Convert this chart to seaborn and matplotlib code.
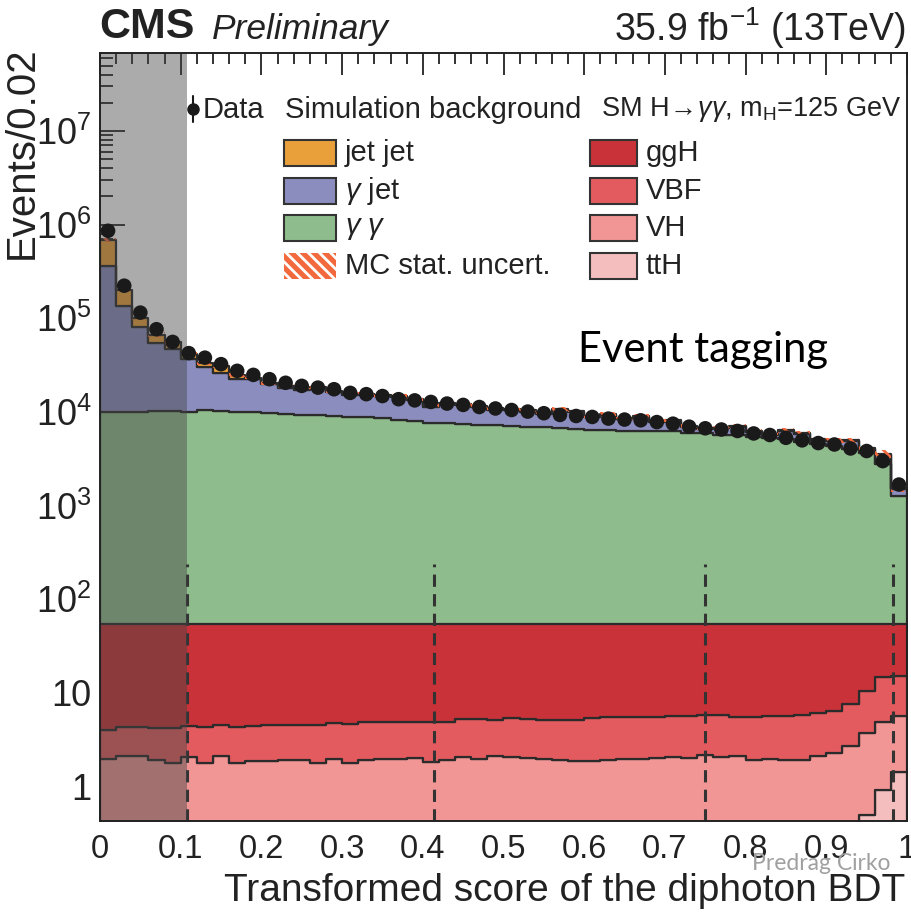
import numpy as np
import pandas as pd
import matplotlib
matplotlib.use("Agg")
import matplotlib.pyplot as plt
import seaborn as sns
from matplotlib.patches import Rectangle
from matplotlib.lines import Line2D
from matplotlib.ticker import FixedLocator, FixedFormatter, MultipleLocator, LogLocator, NullFormatter

# ---------------- data (50 bins of width 0.02) ----------------
data_obs = [8.6e5, 2.23e5, 1.15e5, 7.65e4, 5.6e4, 4.25e4, 3.8e4, 3.24e4, 2.75e4, 2.49e4,
            2.24e4, 2.05e4, 1.9e4, 1.82e4, 1.75e4, 1.6e4, 1.55e4, 1.48e4, 1.37e4, 1.33e4,
            1.28e4, 1.23e4, 1.19e4, 1.13e4, 1.09e4, 1.05e4, 1.01e4, 9.7e3, 9.3e3, 9.06e3,
            8.85e3, 8.5e3, 8.3e3, 8.15e3, 7.8e3, 7.5e3, 6.97e3, 6.7e3, 6.5e3, 6.27e3,
            5.9e3, 5.68e3, 5.3e3, 4.98e3, 4.66e3, 4.5e3, 4.08e3, 3.83e3, 2.99e3, 1.68e3]

bkg_gg = [1.0e4, 1.01e4, 1.01e4, 1.03e4, 1.02e4, 1.0e4, 1.04e4, 1.03e4, 1.0e4, 9.9e3,
          9.8e3, 9.6e3, 9.4e3, 9.3e3, 9.1e3, 8.9e3, 8.8e3, 8.55e3, 8.15e3, 7.95e3,
          7.7e3, 7.6e3, 7.4e3, 7.35e3, 7.2e3, 7.03e3, 6.9e3, 6.85e3, 6.8e3, 6.65e3,
          6.5e3, 6.4e3, 6.27e3, 6.27e3, 6.3e3, 6.2e3, 6.0e3, 5.9e3, 5.75e3, 5.65e3,
          5.4e3, 5.25e3, 5.1e3, 4.8e3, 4.5e3, 4.33e3, 4.0e3, 3.67e3, 2.8e3, 1.26e3]

bkg_gjet = [3.5e5, 1.24e5, 7.09e4, 4.37e4, 3.73e4, 2.66e4, 1.96e4, 1.6e4, 1.24e4, 12500,
            10000, 8600, 7600, 8600, 7300, 6350, 6400, 6100, 6250, 5400,
            3600, 4650, 4400, 4000, 3400, 3420, 3200, 2750, 3650, 3450,
            2360, 2870, 2140, 2530, 1550, 1800, 960, 750, 950, 1310,
            720, 420, 1190, 1080, 500, 550, 900, 380, 700, 250]

bkg_jj = [3.26e5, 6.6e4, 2.1e4, 1.27e4, 8.5e3, 5.4e3, 3.7e3, 4.7e3, 2.5e3, 900,
          700, 800, 500, 600, 400, 450, 500, 350, 400, 350,
          300, 350, 300, 250, 300, 250, 300, 200, 250, 200,
          200, 180, 150, 200, 150, 150, 120, 150, 100, 120,
          150, 100, 80, 120, 100, 100, 80, 100, 80, 40]

mc_rel_unc = [0.05, 0.04, 0.05, 0.06, 0.05, 0.05, 0.05, 0.045, 0.045, 0.045,
              0.045, 0.04, 0.04, 0.04, 0.04, 0.04, 0.04, 0.04, 0.04, 0.04,
              0.045, 0.04, 0.04, 0.04, 0.04, 0.04, 0.045, 0.04, 0.045, 0.04,
              0.04, 0.045, 0.04, 0.045, 0.04, 0.045, 0.04, 0.045, 0.04, 0.045,
              0.045, 0.04, 0.055, 0.055, 0.045, 0.055, 0.055, 0.055, 0.09, 0.1]

sig_ggH = [51.0, 50.6, 50.6, 50.7, 50.8, 50.5, 50.7, 50.4, 50.6, 50.5,
           50.5, 50.5, 50.4, 50.4, 50.2, 50.3, 50.2, 50.1, 50.1, 50.1,
           50.2, 50.1, 49.8, 49.8, 49.8, 49.6, 49.8, 49.8, 49.8, 49.8,
           49.6, 49.5, 49.4, 49.4, 49.4, 49.3, 49.3, 49.2, 49.2, 49.4,
           49.5, 49.3, 49.3, 49.2, 48.9, 48.6, 47.4, 44.4, 40.1, 39.7]

sig_VBF = [2.07, 2.28, 2.23, 2.33, 2.39, 2.41, 2.52, 2.47, 2.57, 2.58,
           2.62, 2.58, 2.63, 2.76, 2.78, 2.90, 2.91, 2.93, 2.96, 2.90,
           3.00, 3.01, 3.20, 3.26, 3.08, 3.30, 3.25, 3.19, 3.24, 3.30,
           3.48, 3.58, 3.61, 3.61, 3.57, 3.62, 3.67, 3.64, 3.75, 3.48,
           3.58, 3.75, 3.78, 3.91, 3.98, 4.16, 4.89, 6.88, 9.95, 9.60]

sig_VH = [1.76, 1.88, 1.95, 1.71, 1.59, 1.84, 1.56, 1.87, 1.59, 1.67,
          1.68, 1.71, 1.72, 1.59, 1.75, 1.56, 1.71, 1.73, 1.76, 1.78,
          1.62, 1.70, 1.82, 1.75, 1.85, 1.84, 1.77, 1.73, 1.67, 1.62,
          1.65, 1.66, 1.74, 1.73, 1.76, 1.82, 1.76, 1.91, 1.79, 1.84,
          1.63, 1.65, 1.61, 1.60, 1.77, 1.93, 2.37, 3.22, 4.02, 4.28]

sig_ttH = [0.21, 0.22, 0.20, 0.23, 0.22, 0.21, 0.22, 0.23, 0.22, 0.21,
           0.22, 0.23, 0.22, 0.22, 0.23, 0.22, 0.23, 0.24, 0.23, 0.22,
           0.23, 0.24, 0.23, 0.24, 0.25, 0.24, 0.23, 0.24, 0.25, 0.24,
           0.25, 0.26, 0.25, 0.26, 0.27, 0.26, 0.27, 0.28, 0.29, 0.28,
           0.29, 0.30, 0.31, 0.32, 0.33, 0.35, 0.38, 0.50, 0.93, 1.42]

category_cuts = [0.108, 0.414, 0.750, 0.983]
blind_region = [0.0, 0.108]

bkg_names = ["jet jet", "\u03b3 jet", "\u03b3 \u03b3"]
bkg_labels = ["jet jet", "$\\gamma$ jet", "$\\gamma$ $\\gamma$"]
bkg_colors = ["#E9A03B", "#8B8DBE", "#8FBC8C"]
sig_names = ["ggH", "VBF", "VH", "ttH"]
sig_colors = ["#C93238", "#E45B5F", "#F19595", "#F5BEBE"]
unc_color = "#F2693D"

y_major = [1, 10, 1e2, 1e3, 1e4, 1e5, 1e6, 1e7]
y_major_labels = ["1", "10", "$10^{2}$", "$10^{3}$", "$10^{4}$", "$10^{5}$", "$10^{6}$", "$10^{7}$"]

# ---------------- style ----------------
sns.set_style("ticks")
plt.rcParams["font.family"] = ["Liberation Sans", "DejaVu Sans"]
plt.rcParams["mathtext.fontset"] = "custom"
plt.rcParams["mathtext.rm"] = "Liberation Sans"
plt.rcParams["mathtext.it"] = "Liberation Sans:italic"
plt.rcParams["mathtext.bf"] = "Liberation Sans:bold"
plt.rcParams["hatch.linewidth"] = 2.0
plt.rcParams["axes.linewidth"] = 1.4
TXT = "#222222"

W, H = 912, 915
fig = plt.figure(figsize=(W / 100, H / 100), dpi=100)
ax = fig.add_axes([100 / W, 1 - 821 / H, 807 / W, (821 - 53) / H])

edges = np.linspace(0, 1, 51)
centers = 0.5 * (edges[:-1] + edges[1:])
nb = len(centers)
bin_edges = [float(e) for e in edges]

bkg_df = pd.DataFrame({
    "x": np.tile(centers, 3),
    "w": np.concatenate([bkg_jj, bkg_gjet, bkg_gg]),
    "proc": np.repeat(bkg_names, nb),
})
sig_df = pd.DataFrame({
    "x": np.tile(centers, 4),
    "w": np.concatenate([sig_ggH, sig_VBF, sig_VH, sig_ttH]),
    "proc": np.repeat(sig_names, nb),
})

sns.histplot(data=bkg_df, x="x", weights="w", hue="proc", hue_order=bkg_names,
             palette=bkg_colors, bins=bin_edges, multiple="stack", element="step",
             fill=True, alpha=1, edgecolor="#2b2b2b", linewidth=1.6,
             legend=False, ax=ax, zorder=1)
sns.histplot(data=sig_df, x="x", weights="w", hue="proc", hue_order=sig_names,
             palette=sig_colors, bins=bin_edges, multiple="stack", element="step",
             fill=True, alpha=1, edgecolor="#2b2b2b", linewidth=1.6,
             legend=False, ax=ax, zorder=2)

ax.set_yscale("log")

mc_total = np.array(bkg_jj) + np.array(bkg_gjet) + np.array(bkg_gg)
rel = np.array(mc_rel_unc)
ax.stairs(mc_total * (1 + rel), edges, baseline=mc_total * (1 - rel), fill=True,
          facecolor="none", edgecolor=unc_color, hatch="\\\\\\", linewidth=0, zorder=3)

# category boundaries
ax.vlines(category_cuts, 0.43, 240, colors="#333333", linestyles=(0, (4, 2.4)),
          linewidth=2.2, zorder=4)

# data
dobs = np.array(data_obs)
ax.errorbar(centers, dobs, yerr=np.sqrt(dobs), fmt="none", ecolor="#1a1a1a",
            elinewidth=1.5, zorder=6)
sns.scatterplot(x=centers, y=dobs, color="#1a1a1a", s=110, edgecolor="none",
                ax=ax, zorder=7, legend=False)

# excluded region
ax.axvspan(blind_region[0], blind_region[1], color="#454545", alpha=0.45, lw=0, zorder=5)

ax.set_xlim(0, 1)
ax.set_ylim(0.43, 6.8e7)
ax.set_xlabel("")
ax.set_ylabel("")

ax.yaxis.set_major_locator(FixedLocator(y_major))
ax.yaxis.set_major_formatter(FixedFormatter(y_major_labels))
ax.yaxis.set_minor_locator(LogLocator(base=10, subs=np.arange(2, 10), numticks=20))
ax.yaxis.set_minor_formatter(NullFormatter())
ax.xaxis.set_major_locator(MultipleLocator(0.1))
ax.xaxis.set_minor_locator(MultipleLocator(0.02))
ax.xaxis.set_major_formatter(matplotlib.ticker.FuncFormatter(
    lambda v, p: "0" if abs(v) < 1e-9 else ("1" if abs(v - 1) < 1e-9 else f"{v:.1f}")))

ax.tick_params(axis="both", which="both", direction="in", top=True, right=False,
               colors="#222222", labelcolor=TXT, width=1.3)
ax.tick_params(axis="x", which="major", length=16, labelsize=23.5, pad=9)
ax.tick_params(axis="x", which="minor", length=8)
ax.tick_params(axis="y", which="major", length=18, labelsize=26, pad=6)
ax.tick_params(axis="y", which="minor", length=9)
for s in ax.spines.values():
    s.set_color("#222222")
    s.set_zorder(8)

# axis titles
fig.text(905 / W, 1 - 891 / H, "Transformed score of the diphoton BDT", ha="right",
         va="center", size=28, color=TXT)
fig.text(22 / W, 1 - 46 / H, "Events/0.02", ha="center", va="top", rotation=90,
         size=29, color=TXT)

# header
fig.text(99 / W, 1 - 27 / H, "CMS", ha="left", va="center", size=31,
         weight="bold", color=TXT)
fig.text(212 / W, 1 - 29 / H, "Preliminary", ha="left", va="center", size=25.5,
         style="italic", color=TXT)
fig.text(906 / W, 1 - 28 / H, "35.9 fb$^{-1}$ (13TeV)", ha="right", va="center",
         size=27, color=TXT)

# legend
def P(x, y):
    return (x / W, 1 - y / H)

LS = 21
fig.add_artist(Line2D([193 / W, 193 / W], [1 - 96 / H, 1 - 122 / H],
                      transform=fig.transFigure, color="#1a1a1a", lw=1.5))
fig.add_artist(Line2D([193 / W], [1 - 109 / H], transform=fig.transFigure,
                      marker="o", ms=8, color="#1a1a1a", lw=0))
fig.text(*P(203, 110), "Data", ha="left", va="center", size=LS, color=TXT)
fig.text(*P(285, 110), "Simulation background", ha="left", va="center", size=LS, color=TXT)
fig.text(*P(902, 110), "SM H$\\!\\rightarrow\\!\\gamma\\gamma$, m$_{\\mathrm{H}}$=125 GeV",
         ha="right", va="center", size=19.5, color=TXT)

rows = [153, 191, 228, 266]
for name, col, yc in zip(bkg_labels, bkg_colors, rows[:3]):
    fig.add_artist(Rectangle(P(284, yc + 12.5), 52 / W, 25 / H, transform=fig.transFigure,
                             facecolor=col, edgecolor="#333333", lw=1.5))
    fig.text(*P(345, yc), name, ha="left", va="center", size=LS, color=TXT)
fig.add_artist(Rectangle(P(284, rows[3] + 12.5), 52 / W, 25 / H, transform=fig.transFigure,
                         facecolor=unc_color, edgecolor="white", hatch="\\\\\\", lw=0))
fig.text(*P(345, rows[3]), "MC stat. uncert.", ha="left", va="center", size=LS, color=TXT)
for name, col, yc in zip(sig_names, sig_colors, rows):
    fig.add_artist(Rectangle(P(590, yc + 12.5), 47 / W, 25 / H, transform=fig.transFigure,
                             facecolor=col, edgecolor="#333333", lw=1.5))
    fig.text(*P(646, yc), name, ha="left", va="center", size=LS, color=TXT)

fig.text(*P(578, 350), "Event tagging", ha="left", va="center", size=30,
         family=["Lato", "DejaVu Sans"], color="black")
fig.text(*P(752, 864), "Predrag Cirko", ha="left", va="center", size=16.5,
         family=["Lato", "DejaVu Sans"], color="#A0A0A0")

fig.savefig("out.png", dpi=100)
